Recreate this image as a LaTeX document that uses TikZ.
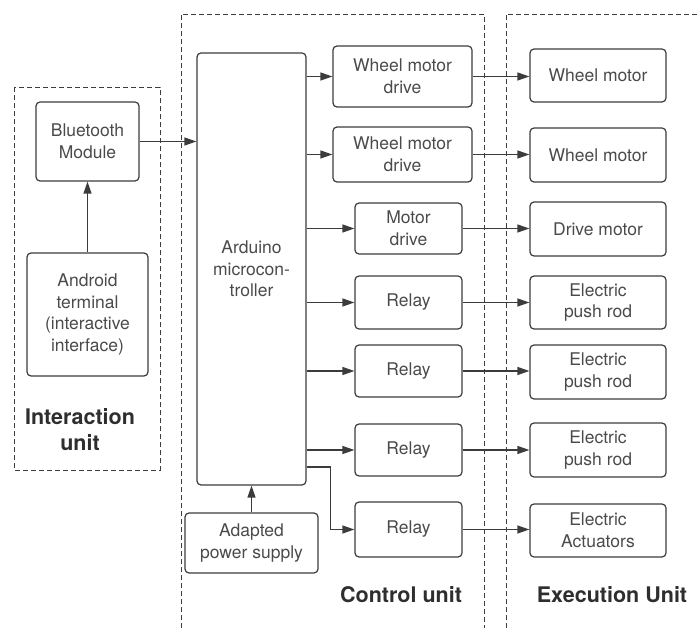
\documentclass[tikz,border=0pt]{standalone}
\usepackage{fontspec}
\setmainfont{TeX Gyre Heros}
\usetikzlibrary{arrows.meta,calc}
\definecolor{linec}{HTML}{3C3C3C}
\definecolor{textc}{HTML}{4A4A4A}
\definecolor{labelc}{HTML}{2E2E2E}
\begin{document}
\begin{tikzpicture}[x=1pt,y=-1pt,
  box/.style={draw=linec, line width=1.2pt, rounded corners=4pt, align=center,
    text=textc, inner sep=0pt, font=\fontsize{17.5}{21.5}\selectfont},
  arr/.style={draw=linec, line width=1.2pt, -{Triangle[length=12pt,width=8pt]}},
  zone/.style={draw=linec, line width=0.9pt, dash pattern=on 5pt off 3pt},
  unitlabel/.style={text=labelc, align=center, font=\fontsize{21.5}{26}\selectfont\bfseries}]
\useasboundingbox (0,0) rectangle (697,628);
% dashed zones
\draw[zone] (14,87) rectangle (160,470);
\draw[zone] (181,628) -- (181,14) -- (484,14) -- (484,628);
\draw[zone] (506,628) -- (506,14) -- (697,14);
% interaction unit
\node[box, minimum width=103pt, minimum height=79pt] (bt) at (87.5,141.5) {Bluetooth\\Module};
\node[box, minimum width=121pt, minimum height=123pt] (and) at (87.5,314.5) {Android\\terminal\\(interactive\\interface)};
\node[unitlabel] (lint) at (80,430) {Interaction\\unit};
% control unit
\node[box, minimum width=109pt, minimum height=432pt] (ard) at (251.5,269) {Arduino\\microcon-\\troller};
\node[box, minimum width=133pt, minimum height=60pt] (aps) at (251.5,543) {Adapted\\power supply};
\node[box, minimum width=139pt, minimum height=61pt] (wmd1) at (402.5,76.5) {Wheel motor\\drive};
\node[box, minimum width=139pt, minimum height=55pt] (wmd2) at (402.5,154.5) {Wheel motor\\drive};
\node[box, minimum width=107pt, minimum height=51pt] (md) at (408.5,228.5) {Motor\\drive};
\node[box, minimum width=107pt, minimum height=53pt] (r1) at (408.5,302.5) {Relay};
\node[box, minimum width=107pt, minimum height=52pt] (r2) at (408.5,371) {Relay};
\node[box, minimum width=107pt, minimum height=52pt] (r3) at (408.5,450) {Relay};
\node[box, minimum width=107pt, minimum height=55pt] (r4) at (408.5,529.5) {Relay};
\node[unitlabel] (lctl) at (401,595) {Control unit};
% execution unit
\node[box, minimum width=136pt, minimum height=53pt] (wm1) at (598,75.5) {Wheel motor};
\node[box, minimum width=136pt, minimum height=54pt] (wm2) at (598,155) {Wheel motor};
\node[box, minimum width=136pt, minimum height=54pt] (dm) at (598,229) {Drive motor};
\node[box, minimum width=136pt, minimum height=53pt] (e1) at (598,302.5) {Electric\\push rod};
\node[box, minimum width=136pt, minimum height=54pt] (e2) at (598,372) {Electric\\push rod};
\node[box, minimum width=136pt, minimum height=54pt] (e3) at (598,450) {Electric\\push rod};
\node[box, minimum width=136pt, minimum height=53pt] (ea) at (598,530.5) {Electric\\Actuators};
\node[unitlabel] (lexe) at (612,595) {Execution Unit};
% connectors
\draw[arr] (and.north) -- (bt.south);
\draw[arr] (bt.east) -- (bt.east -| ard.west);
\draw[arr] (aps.north) -- (aps.north |- ard.south);
\draw[arr] (ard.east |- wmd1.west) -- (wmd1.west);
\draw[arr] (ard.east |- wmd2.west) -- (wmd2.west);
\draw[arr] (ard.east |- md.west) -- (md.west);
\draw[arr] (ard.east |- r1.west) -- (r1.west);
\draw[arr] (ard.east |- r2.west) -- (r2.west);
\draw[arr] (ard.east |- r3.west) -- (r3.west);
\coordinate (ardout) at (ard.east |- 0,467);
\draw[arr] (ardout) -- ++(24,0) |- (r4.west);
\draw[arr] (wmd1.east) -- (wmd1.east -| wm1.west);
\draw[arr] (wmd2.east) -- (wmd2.east -| wm2.west);
\draw[arr] (md.east) -- (md.east -| dm.west);
\draw[arr] (r1.east) -- (r1.east -| e1.west);
\draw[arr] (r2.east) -- (r2.east -| e2.west);
\draw[arr] (r3.east) -- (r3.east -| e3.west);
\draw[arr] (r4.east) -- (r4.east -| ea.west);
\end{tikzpicture}
\end{document}
